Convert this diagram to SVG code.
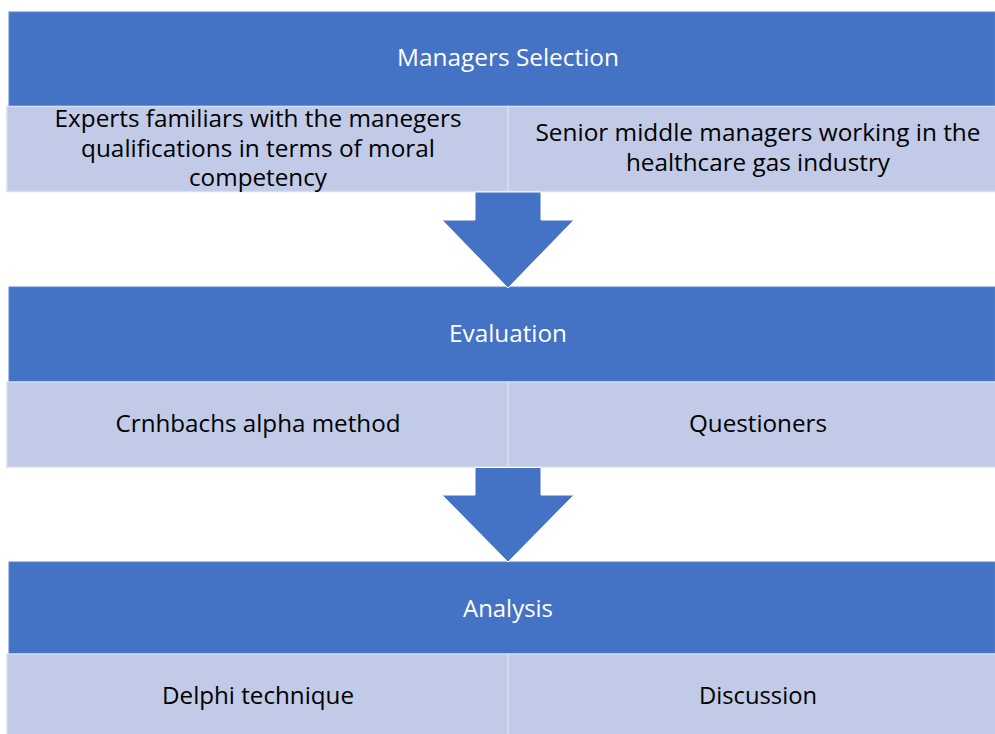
<svg xmlns="http://www.w3.org/2000/svg" width="995" height="734" viewBox="0 0 995 734">
  <style>
    .band { fill: #4472C4; stroke: #5A83CC; stroke-width: 1; }
    .cell { fill: #C1CAE6; stroke: #D7DDF0; stroke-width: 1.5; }
    .arrow { fill: #4472C4; stroke: #FFFFFF; stroke-width: 1; }
    text { font-family: "Open Sans", "Liberation Sans", sans-serif; font-size: 23px; text-anchor: middle; }
    .head { fill: #FFFFFF; }
    .sub { fill: #000000; }
  </style>

  <!-- Stage 1 -->
  <g id="managers-selection">
    <rect class="band" x="9" y="12" width="986" height="94"/>
    <text class="head" x="508" y="66" textLength="222" lengthAdjust="spacingAndGlyphs">Managers Selection</text>
  </g>
  <g id="experts">
    <rect class="cell" x="7" y="106.5" width="501" height="85"/>
    <text class="sub" x="258" y="127" textLength="407" lengthAdjust="spacingAndGlyphs">Experts familiars with the manegers</text>
    <text class="sub" x="258" y="157" textLength="354" lengthAdjust="spacingAndGlyphs">qualifications in terms of moral</text>
    <text class="sub" x="258" y="186" textLength="138" lengthAdjust="spacingAndGlyphs">competency</text>
  </g>
  <g id="senior-managers">
    <rect class="cell" x="508" y="106.5" width="488" height="85"/>
    <text class="sub" x="758" y="141" textLength="445" lengthAdjust="spacingAndGlyphs">Senior middle managers working in the</text>
    <text class="sub" x="758" y="171" textLength="264" lengthAdjust="spacingAndGlyphs">healthcare gas industry</text>
  </g>

  <!-- Stage 2 -->
  <g id="evaluation">
    <rect class="band" x="9" y="287" width="986" height="95"/>
    <text class="head" x="508" y="342" textLength="118" lengthAdjust="spacingAndGlyphs">Evaluation</text>
  </g>
  <g id="cronbach">
    <rect class="cell" x="7" y="382" width="501" height="85"/>
    <text class="sub" x="258" y="432" textLength="285" lengthAdjust="spacingAndGlyphs">Crnhbachs alpha method</text>
  </g>
  <g id="questioners">
    <rect class="cell" x="508" y="382" width="488" height="85"/>
    <text class="sub" x="758" y="432" textLength="138" lengthAdjust="spacingAndGlyphs">Questioners</text>
  </g>

  <!-- Stage 3 -->
  <g id="analysis">
    <rect class="band" x="9" y="562" width="986" height="92"/>
    <text class="head" x="508" y="617" textLength="90" lengthAdjust="spacingAndGlyphs">Analysis</text>
  </g>
  <g id="delphi">
    <rect class="cell" x="7" y="654" width="501" height="85"/>
    <text class="sub" x="258" y="704" textLength="192" lengthAdjust="spacingAndGlyphs">Delphi technique</text>
  </g>
  <g id="discussion">
    <rect class="cell" x="508" y="654" width="488" height="85"/>
    <text class="sub" x="758" y="704" textLength="118" lengthAdjust="spacingAndGlyphs">Discussion</text>
  </g>

  <!-- Connectors: block arrows between stages -->
  <g id="connectors">
    <polygon class="arrow" points="475,192 541,192 541,220 574,220 508,288 442,220 475,220"/>
    <polygon class="arrow" points="475,467.5 541,467.5 541,495 574,495 508,562 442,495 475,495"/>
  </g>
</svg>
